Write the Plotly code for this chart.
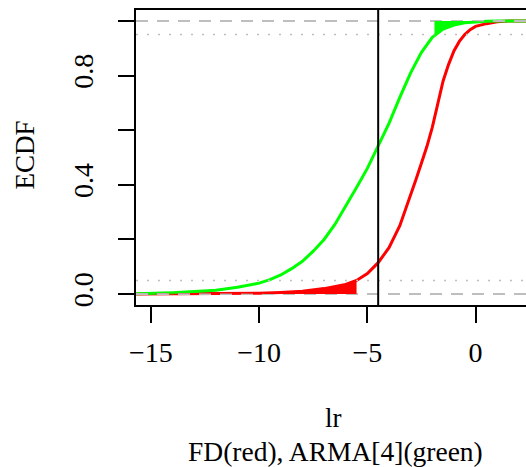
import numpy as np
import plotly.graph_objects as go

# ---- data ----
x_range = [-15.69, 2.33]
y_range = [-0.04, 1.04]

green_x = [-15.69, -15, -14, -13, -12, -11, -10, -9.5, -9, -8.5, -8, -7.5, -7, -6.5, -6, -5.5, -5, -4.5, -4, -3.5, -3, -2.5, -2, -1.5, -1, -0.5, 0, 0.5, 1, 2.33]
green_y = [0.001, 0.002, 0.005, 0.009, 0.014, 0.025, 0.04, 0.053, 0.07, 0.093, 0.12, 0.157, 0.2, 0.255, 0.32, 0.39, 0.46, 0.54, 0.625, 0.72, 0.81, 0.885, 0.94, 0.97, 0.985, 0.993, 0.997, 0.999, 1.0, 1.0]

red_x = [-15.69, -12, -11, -10, -9, -8, -7, -6.5, -6, -5.5, -5, -4.5, -4, -3.5, -3, -2.75, -2.5, -2.25, -2, -1.75, -1.5, -1.25, -1, -0.75, -0.5, -0.25, 0, 0.5, 1, 1.5, 2.33]
red_y = [0.0, 0.0005, 0.001, 0.003, 0.006, 0.01, 0.02, 0.027, 0.035, 0.05, 0.075, 0.115, 0.17, 0.25, 0.36, 0.42, 0.48, 0.54, 0.61, 0.70, 0.78, 0.84, 0.89, 0.925, 0.95, 0.968, 0.98, 0.99, 0.997, 1.0, 1.0]

vline_x = -4.5
dashed_levels = [0.0, 1.0]
dotted_levels = [0.05, 0.95]
red_tail_x = -5.5      # lower 5% quantile of red
green_tail_x = -1.9    # upper 95% quantile of green

x_ticks = [-15, -10, -5, 0]
x_ticklabels = ["\u221215", "\u221210", "\u22125", "0"]
y_ticks = [0, 0.2, 0.4, 0.6, 0.8, 1.0]
y_ticklabels = ["0.0", "", "0.4", "", "0.8", ""]

RED = "#FF0000"
GREEN = "#00FF00"
GRAY = "#BEBEBE"
FONT = "Liberation Serif"

fig = go.Figure()

# ECDF curves
fig.add_trace(go.Scatter(x=red_x, y=red_y, mode="lines", line=dict(color=RED, width=3), hoverinfo="skip"))
fig.add_trace(go.Scatter(x=green_x, y=green_y, mode="lines", line=dict(color=GREEN, width=3), hoverinfo="skip"))

# reference lines
for lv in dashed_levels:
    fig.add_trace(go.Scatter(x=x_range, y=[lv, lv], mode="lines", line=dict(color=GRAY, width=2, dash="12px,9px"), hoverinfo="skip"))
for lv in dotted_levels:
    fig.add_trace(go.Scatter(x=x_range, y=[lv, lv], mode="lines", line=dict(color=GRAY, width=1.5, dash="2px,9px"), hoverinfo="skip"))
fig.add_trace(go.Scatter(x=[vline_x, vline_x], y=y_range, mode="lines", line=dict(color="black", width=2), hoverinfo="skip"))

# tail fills
rx = np.array(red_x); ry = np.array(red_y)
sel = rx < red_tail_x
px = list(rx[sel]) + [red_tail_x, red_tail_x, rx[sel][0]]
py = list(ry[sel]) + [float(np.interp(red_tail_x, rx, ry)), 0.0, 0.0]
fig.add_trace(go.Scatter(x=px, y=py, mode="lines", fill="toself", fillcolor=RED, line=dict(width=0, color=RED), hoverinfo="skip"))

gx = np.array(green_x); gy = np.array(green_y)
sel = gx > green_tail_x
qx = [green_tail_x] + list(gx[sel]) + [gx[sel][-1], green_tail_x]
qy = [float(np.interp(green_tail_x, gx, gy))] + list(gy[sel]) + [1.0, 1.0]
fig.add_trace(go.Scatter(x=qx, y=qy, mode="lines", fill="toself", fillcolor=GREEN, line=dict(width=0, color=GREEN), hoverinfo="skip"))

fig.update_layout(
    width=526, height=467,
    margin=dict(l=136, r=0, t=10, b=162),
    paper_bgcolor="white", plot_bgcolor="white",
    showlegend=False,
    font=dict(family=FONT, color="black"),
    xaxis=dict(range=x_range, showgrid=False, zeroline=False,
               showline=True, linecolor="black", linewidth=2, mirror=True,
               ticks="outside", ticklen=16, tickwidth=2, tickcolor="black",
               tickvals=x_ticks, ticktext=x_ticklabels,
               tickfont=dict(family=FONT, size=28, color="black"), ticklabelstandoff=5),
    yaxis=dict(range=y_range, showgrid=False, zeroline=False,
               showline=True, linecolor="black", linewidth=2, mirror=False,
               ticks="outside", ticklen=16, tickwidth=2, tickcolor="black",
               tickvals=y_ticks, ticktext=y_ticklabels, tickangle=-90,
               tickfont=dict(family=FONT, size=28, color="black"), ticklabelstandoff=14),
    annotations=[
        dict(text="ECDF", xref="paper", yref="paper", x=(25 - 136) / 390, y=(305 - 155.6) / 295,
             xanchor="center", yanchor="middle", textangle=-90, showarrow=False,
             font=dict(family=FONT, size=27)),
        dict(text="lr", xref="paper", yref="paper", x=(333 - 136) / 390, y=(305 - 418) / 295,
             xanchor="center", yanchor="middle", showarrow=False,
             font=dict(family=FONT, size=27)),
        dict(text="FD(red), ARMA[4](green)", xref="paper", yref="paper", x=(335 - 136) / 390, y=(305 - 451) / 295,
             xanchor="center", yanchor="middle", showarrow=False,
             font=dict(family=FONT, size=27.5)),
    ],
)

fig.write_html("out.html")
